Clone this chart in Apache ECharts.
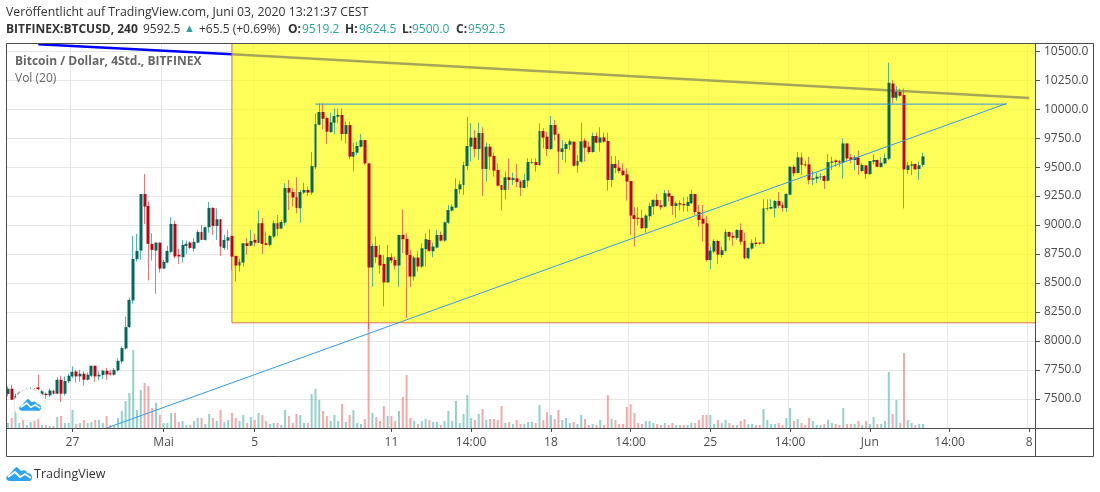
<!DOCTYPE html>
<html>
<head>
<meta charset="utf-8">
<style>html,body{margin:0;padding:0;background:#fff}#c{width:1100px;height:492px}</style>
<script src="https://cdn.jsdelivr.net/npm/echarts@6/dist/echarts.min.js"></script>
</head>
<body>
<div id="c"></div>
<script>
var tickIndex = [17, 41, 65, 101, 122, 143, 164, 185, 206, 227, 248, 269];
var tickLabels = ['27', 'Mai', '5', '11', '14:00', '18', '14:00', '25', '14:00', 'Jun', '14:00', '8'];
var barCount = 271;

var opens = [
7543,7589,7500,7528,7555,7540,7560,7575,7600,7537,
7546,7531,7571,7546,7666,7546,7652,7695,7738,7695,
7718,7666,7701,7787,7695,7706,7744,7721,7709,7747,
7824,7936,8120,8350,8706,8780,9268,9165,8838,8780,
8849,8625,8677,8769,9010,8743,8723,8820,8849,8797,
8849,8941,8872,8981,9148,8993,9050,8803,8866,8907,
8734,8651,8677,8843,8823,8872,8846,9016,8843,8829,
8901,9016,8970,9021,9320,9285,9240,9145,9280,9303,
9280,9498,9865,9975,9923,9802,9883,9934,9949,9785,
9862,9590,9624,9676,9733,9532,8634,8820,8743,8665,
8505,8723,8700,8651,8915,8881,8743,8556,8720,8642,
8792,8872,8774,8806,8915,8866,9021,9125,9150,9308,
9346,9509,9676,9754,9656,9794,9484,9676,9596,9475,
9346,9303,9412,9389,9403,9375,9320,9383,9538,9544,
9518,9811,9762,9656,9863,9785,9630,9656,9693,9719,
9512,9547,9728,9676,9630,9768,9711,9756,9725,9389,
9527,9495,9469,9438,9380,9085,9062,9062,8973,9076,
9159,9217,9171,9159,9274,9251,9165,9188,9182,9165,
9188,9268,9113,9055,9015,8699,8771,8863,8742,8777,
8941,8906,8889,8958,8863,8714,8797,8849,8849,8840,
9142,9142,9144,9208,9173,9147,9262,9503,9449,9584,
9523,9523,9391,9400,9411,9423,9383,9538,9558,9552,
9538,9704,9584,9561,9584,9466,9515,9440,9546,9561,
9500,9532,9572,10221,10098,10149,10121,9475,9512,9526,
9483,9519.2];

var closes = [
7589,7494,7528,7555,7540,7560,7575,7565,7585,7566,
7534,7574,7546,7666,7546,7655,7701,7735,7695,7718,
7666,7709,7787,7695,7709,7744,7712,7712,7752,7830,
7939,8120,8355,8708,8777,9268,9159,8838,8786,8849,
8625,8683,8777,9010,8729,8729,8829,8838,8803,8855,
8941,8872,8981,9148,8993,9050,8815,8872,8895,8728,
8651,8683,8843,8820,8863,8849,9016,8838,8829,8906,
9016,8967,9027,9320,9280,9237,9148,9285,9303,9280,
9509,9871,9975,9917,9805,9886,9940,9949,9785,9862,
9590,9630,9682,9733,9532,8634,8820,8723,8651,8505,
8723,8694,8651,8915,8878,8743,8556,8720,8642,8800,
8878,8777,8815,8915,8866,9024,9130,9159,9311,9351,
9518,9682,9754,9656,9794,9484,9676,9590,9469,9340,
9303,9412,9389,9406,9372,9323,9389,9544,9544,9518,
9811,9754,9656,9863,9779,9633,9662,9699,9722,9512,
9553,9722,9667,9630,9768,9711,9756,9719,9389,9527,
9492,9466,9432,9375,9082,9053,9053,8973,9082,9165,
9217,9165,9154,9274,9245,9165,9188,9177,9171,9199,
9268,9113,9044,9012,8699,8780,8863,8745,8783,8941,
8900,8892,8958,8857,8714,8803,8846,8837,8840,9144,
9147,9156,9208,9167,9147,9268,9503,9446,9584,9518,
9515,9388,9403,9417,9420,9380,9543,9549,9543,9538,
9704,9575,9561,9584,9518,9518,9440,9552,9561,9503,
9538,9578,10227,10098,10149,10115,9480,9515,9523,9480,
9515,9592.5];

var highs = [
7609,7623,7546,7565,7575,7590,7600,7595,7709,7580,
7557,7592,7580,7689,7701,7695,7718,7781,7752,7752,
7738,7729,7787,7787,7738,7752,7767,7752,7767,7853,
7953,8212,8375,8907,8924,9268,9441,9205,8930,8849,
8849,8700,8820,9067,9039,8795,8872,8866,8858,8886,
8958,9001,8987,9199,9153,9145,9050,8915,8958,8907,
8734,8708,8843,8886,8958,8924,9125,9061,8944,8915,
9039,9087,9044,9360,9389,9317,9412,9303,9366,9331,
9630,9963,10049,10049,9934,9969,10006,10006,10006,9891,
9891,9710,9719,9785,9733,9532,8838,8901,8829,8743,
8829,8757,8728,8915,9136,8929,8786,8734,8772,8843,
8929,8964,8849,8958,8944,9030,9173,9179,9403,9383,
9547,9934,9877,9820,9883,9843,9711,9699,9624,9532,
9346,9461,9576,9452,9527,9389,9441,9576,9573,9576,
9877,9834,9805,9940,9906,9791,9733,9719,9739,9719,
9604,9883,9748,9719,9797,9797,9843,9797,9797,9596,
9596,9561,9532,9489,9380,9154,9154,9131,9096,9194,
9222,9268,9217,9303,9303,9251,9202,9211,9240,9245,
9303,9268,9174,9173,9078,8814,8877,8872,8814,8964,
8941,8935,8964,9015,8935,8808,8877,8895,8849,9222,
9222,9222,9216,9285,9202,9274,9509,9518,9630,9624,
9555,9589,9466,9452,9446,9431,9612,9589,9566,9561,
9747,9704,9612,9604,9641,9532,9518,9552,9609,9566,
9584,9618,10399,10250,10198,10178,10178,9543,9552,9532,
9546,9624.5];

var lows = [
7523,7494,7480,7515,7525,7525,7545,7540,7575,7530,
7500,7517,7540,7540,7474,7528,7638,7683,7643,7649,
7615,7661,7689,7649,7661,7672,7666,7701,7701,7738,
7804,7925,8111,8321,8685,8700,9010,8522,8694,8407,
8591,8625,8671,8757,8714,8665,8677,8752,8792,8769,
8843,8872,8866,8935,8915,8872,8734,8786,8786,8614,
8513,8599,8642,8743,8820,8815,8843,8751,8823,8815,
8886,8906,8964,8998,9130,9159,9102,9021,9268,9251,
9260,9481,9860,9825,9699,9797,9785,9877,9728,9705,
9567,9461,9604,9670,9518,8100,8470,8671,8579,8298,
8505,8671,8614,8470,8757,8197,8464,8522,8599,8628,
8642,8769,8723,8800,8858,8855,9010,9116,9145,9268,
9260,9475,9547,9584,9561,9251,9375,9475,9418,9332,
9125,9222,9303,9346,9326,9251,9317,9326,9527,9461,
9510,9662,9596,9647,9728,9441,9561,9538,9647,9504,
9452,9538,9547,9613,9624,9705,9633,9711,9297,9326,
9446,9446,9423,9211,8915,8815,9001,8964,8935,9039,
9087,9159,9131,9154,9202,9087,9059,9125,9116,9116,
9182,9087,8987,8857,8685,8619,8757,8665,8722,8771,
8866,8820,8872,8829,8705,8705,8786,8814,8829,8837,
9124,9136,9067,9144,9116,9113,9259,9417,9446,9431,
9503,9351,9345,9360,9388,9311,9377,9475,9503,9503,
9400,9546,9532,9475,9431,9460,9397,9431,9526,9498,
9498,9526,9561,10049,10072,10106,9144,9440,9431,9475,
9388,9500];

var volumes = [
5,10,18,5,8,3,6,7,9,3,
3,2,2,11,12,5,5,18,4,5,
8,5,6,8,8,5,12,3,2,10,
17,27,35,78,18,38,45,42,20,25,
13,5,5,15,15,6,7,3,3,7,
10,10,4,14,10,7,18,6,8,15,
10,7,13,5,11,8,15,13,7,4,
5,5,3,18,12,5,14,13,5,5,
34,39,28,17,12,7,13,7,24,6,
13,18,5,4,9,105,15,11,7,22,
12,12,7,17,31,53,10,7,4,7,
9,8,6,6,3,7,17,7,27,5,
14,33,10,8,14,19,8,9,9,8,
22,5,6,4,8,4,4,6,6,5,
23,8,16,13,9,18,8,10,5,6,
4,13,9,3,4,3,8,3,33,9,
8,4,4,21,24,15,5,4,7,7,
5,4,3,5,3,5,3,3,3,3,
5,5,8,13,13,13,4,8,5,8,
5,3,3,7,9,4,4,3,3,19,
8,4,4,5,3,10,20,7,9,5,
3,10,7,3,3,4,8,5,4,3,
20,4,4,4,7,3,7,4,11,4,
4,7,56,14,28,5,75,8,5,3,
4,4];

var resistanceLine = [[8, 10560], [59, 10474], [269, 10095]];
var supportLine = [[26, 7250], [263, 10048]];
var flatLine = [[81, 10043], [263, 10043]];
var highlightStart = 59, highlightTop = 10570, highlightBottom = 8157;

var categories = [];
for (var k = 0; k < barCount; k++) {
  var at = tickIndex.indexOf(k);
  categories.push(at >= 0 ? tickLabels[at] : 'b' + k);
}
var isTick = function (i) { return tickIndex.indexOf(i) >= 0; };

var wickData = opens.map(function (o, i) { return [o, closes[i], lows[i], highs[i]]; });
var bodyData = opens.map(function (o, i) {
  return [o, closes[i], Math.min(o, closes[i]), Math.max(o, closes[i])];
});
var volData = volumes.map(function (v, i) {
  return { value: v, itemStyle: { color: closes[i] >= opens[i] ? 'rgba(38,166,154,0.5)' : 'rgba(239,83,80,0.5)' } };
});

var FONT = '"Open Sans", sans-serif';
var TEAL = '#26a69a';
function txt(x, y, s, opt) {
  opt = opt || {};
  return { type: 'text', z: 200, silent: true, x: x, y: y,
    style: { text: s, fill: opt.color || '#333', font: (opt.bold ? 'bold ' : '') + (opt.size || 12) + 'px ' + FONT,
      textVerticalAlign: 'middle', opacity: opt.opacity == null ? 1 : opt.opacity } };
}
var CLOUD = [[3,15],[1,14],[0,12],[1,10],[3,9],[9,2],[10.5,1],[12,2],[15,5],[18,4],[20,5],[21,7],[24,7.5],[26,10],[26,13],[24,15]];
var ZIG = [[2,11],[9,6],[14,11],[19,8],[25,12]];
function logo(x, y, sc) {
  return [
    { type: 'polygon', z: 201, silent: true, x: x, y: y, scaleX: sc, scaleY: sc, shape: { points: CLOUD }, style: { fill: '#2ea3f2' } },
    { type: 'polyline', z: 202, silent: true, x: x, y: y, scaleX: sc, scaleY: sc, shape: { points: ZIG }, style: { fill: 'none', stroke: '#fff', lineWidth: 1.8 } }
  ];
}

var graphics = [
  { type: 'rect', z: 150, silent: true, shape: { x: 6.5, y: 43.5, width: 1087, height: 413 }, style: { fill: 'none', stroke: '#4d4d4d', lineWidth: 1 } },
  { type: 'line', z: 150, silent: true, shape: { x1: 1035.5, y1: 43.5, x2: 1035.5, y2: 456.5 }, style: { stroke: '#4d4d4d', lineWidth: 1 } },
  { type: 'line', z: 150, silent: true, shape: { x1: 6.5, y1: 428.5, x2: 1093.5, y2: 428.5 }, style: { stroke: '#4d4d4d', lineWidth: 1 } },
  { type: 'circle', z: 190, silent: true, shape: { cx: 30, cy: 405, r: 16 }, style: { fill: '#fff', stroke: '#ececec', lineWidth: 1 } },
  txt(6, 13, 'Veröffentlicht auf TradingView.com, Juni 03, 2020 13:21:37 CEST', { size: 12.25 }),
  txt(6, 30, 'BITFINEX:BTCUSD, 240', { bold: true }),
  txt(143, 30, '9592.5'),
  txt(184, 29, '▲', { color: TEAL, size: 11 }),
  txt(199, 30, '+65.5 (+0.69%)'),
  txt(288, 30, 'O:', { bold: true }), txt(302, 30, '9519.2', { color: TEAL }),
  txt(345, 30, 'H:', { bold: true }), txt(359, 30, '9624.5', { color: TEAL }),
  txt(402, 30, 'L:', { bold: true }), txt(412, 30, '9500.0', { color: TEAL }),
  txt(456, 30, 'C:', { bold: true }), txt(468, 30, '9592.5', { color: TEAL }),
  txt(15, 62, 'Bitcoin / Dollar, 4Std., BITFINEX', { bold: true, color: '#666' }),
  txt(15, 79, 'Vol (20)', { color: '#666' }),
  txt(34, 474, 'TradingView', { color: '#333', size: 12.5 })
].concat(logo(19, 398, 0.85)).concat(logo(6, 466, 1));

var chart = echarts.init(document.getElementById('c'), null, { renderer: 'canvas' });
chart.setOption({
  animation: false,
  backgroundColor: '#fff',
  textStyle: { fontFamily: FONT },
  grid: { left: 6, right: 65, top: 43, bottom: 64, containLabel: false },
  xAxis: {
    type: 'category', data: categories, boundaryGap: true,
    axisLine: { show: false },
    axisTick: { show: true, alignWithLabel: true, length: 4, lineStyle: { color: '#4d4d4d' }, interval: function (i) { return isTick(i); } },
    axisLabel: { color: '#4c4c4c', fontSize: 12, margin: 9, hideOverlap: false, interval: function (i) { return isTick(i); } },
    splitLine: { show: true, lineStyle: { color: '#e6e6e6' }, interval: function (i) { return isTick(i); } }
  },
  yAxis: [{
    type: 'value', position: 'right', min: 7250, max: 10570, interval: 250, scale: true,
    axisLine: { show: false },
    axisTick: { show: true, length: 5, lineStyle: { color: '#4d4d4d' } },
    axisLabel: { color: '#4c4c4c', fontSize: 12, margin: 9, padding: [4, 0, 0, 0], showMinLabel: false, showMaxLabel: false,
      formatter: function (v) { return v.toFixed(1); } },
    splitLine: { show: true, lineStyle: { color: '#e6e6e6' } }
  }, {
    type: 'value', min: 0, max: 385, show: false
  }],
  series: [
    { name: 'Vol', type: 'bar', yAxisIndex: 1, z: 1, barWidth: 2, data: volData },
    { name: 'Resistance', type: 'line', z: 2, showSymbol: false, symbol: 'none', silent: true,
      lineStyle: { color: '#0000ff', width: 2.5 }, data: resistanceLine,
      markArea: { z: 3, silent: true, itemStyle: { color: 'rgba(255,255,0,0.65)', borderWidth: 0 },
        data: [[{ coord: [highlightStart, highlightTop] }, { coord: [Infinity, highlightBottom] }]] } },
    { name: 'Edge', type: 'line', z: 3, symbol: 'none', silent: true, clip: true,
      lineStyle: { color: '#d8705c', width: 1 },
      data: [[highlightStart, highlightTop], [highlightStart, highlightBottom], [barCount, highlightBottom]] },
    { name: 'Wicks', type: 'candlestick', z: 4, barWidth: 1, progressive: 0, data: wickData,
      itemStyle: { color: 'rgba(38,166,154,0.8)', color0: 'rgba(239,83,80,0.8)', borderColor: 'rgba(38,166,154,0.8)', borderColor0: 'rgba(239,83,80,0.8)', borderWidth: 1 } },
    { name: 'Bodies', type: 'candlestick', z: 5, barWidth: 3.4, progressive: 0, data: bodyData,
      itemStyle: { color: '#00695c', color0: '#c20012', borderColor: '#00695c', borderColor0: '#c20012', borderWidth: 0 } },
    { name: 'Support', type: 'line', z: 6, symbol: 'none', silent: true, lineStyle: { color: '#2f9bf0', width: 1 }, data: supportLine },
    { name: 'Flat', type: 'line', z: 6, symbol: 'none', silent: true, lineStyle: { color: '#2f93dc', width: 1 }, data: flatLine }
  ],
  graphic: graphics
});
</script>
</body>
</html>
